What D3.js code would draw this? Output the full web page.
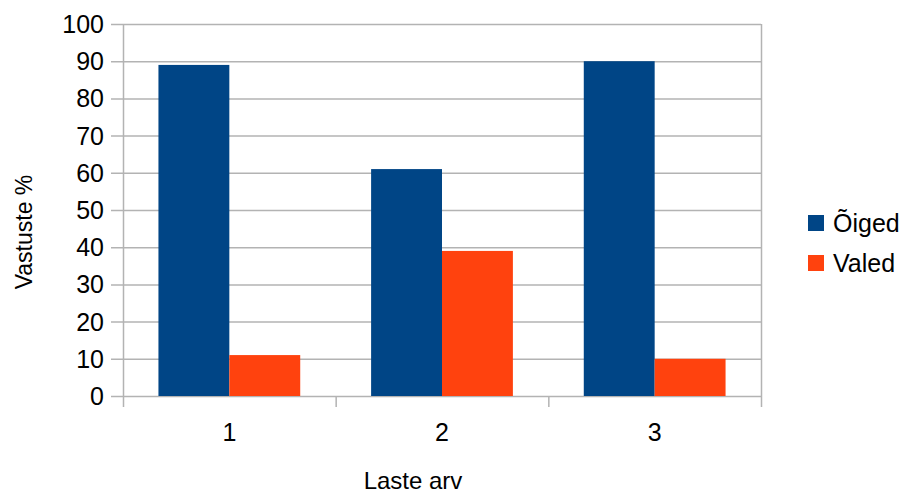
<!DOCTYPE html>
<html>
<head>
<meta charset="utf-8">
<script src="https://cdn.jsdelivr.net/npm/d3@7"></script>
<style>
  body { margin: 0; background: #fff; }
  text { font-family: "Liberation Sans", Arial, sans-serif; fill: #000; }
</style>
</head>
<body>
<div id="container"></div>
<script>
/* DATA */
const categories = ["1", "2", "3"];
const seriesNames = ["Õiged", "Valed"];
const oigedValues = [89, 61, 90];
const valedValues = [11, 39, 10];
const yTicks = [0, 10, 20, 30, 40, 50, 60, 70, 80, 90, 100];

const width = 902,
      height = 493,
      margin = {top: 24, bottom: 97, left: 123, right: 141};

const colors = ["#004586", "#ff420e"];
const gridColor = "#b3b3b3";

const rows = categories.map((c, i) => ({cat: c, values: [oigedValues[i], valedValues[i]]}));

const svg = d3.select("#container")
  .append("svg")
  .attr("width", width)
  .attr("height", height);

/* SCALES */
const xScale = d3.scaleBand()
  .domain(categories)
  .range([margin.left, width - margin.right])
  .padding(0);

const xInner = d3.scaleBand()
  .domain(seriesNames)
  .range([0, xScale.bandwidth()])
  .paddingInner(0)
  .paddingOuter(0.5);

const yScale = d3.scaleLinear()
  .domain([0, 100])
  .range([height - margin.bottom, margin.top]);

// gridlines
svg.append("g")
  .selectAll("line")
  .data(yTicks)
  .join("line")
  .attr("x1", margin.left - 12)
  .attr("x2", width - margin.right)
  .attr("y1", d => yScale(d) + 0.5)
  .attr("y2", d => yScale(d) + 0.5)
  .attr("stroke", gridColor)
  .attr("stroke-width", 1.5);

// right border
svg.append("line")
  .attr("x1", width - margin.right + 0.5)
  .attr("x2", width - margin.right + 0.5)
  .attr("y1", margin.top)
  .attr("y2", height - margin.bottom + 11)
  .attr("stroke", gridColor)
  .attr("stroke-width", 1.5);

// category separators (x axis ticks)
const sepX = categories.map(c => xScale(c));
svg.append("g")
  .selectAll("line")
  .data(sepX)
  .join("line")
  .attr("x1", d => d + 0.5)
  .attr("x2", d => d + 0.5)
  .attr("y1", (d, i) => i === 0 ? margin.top : height - margin.bottom)
  .attr("y2", height - margin.bottom + 11)
  .attr("stroke", gridColor)
  .attr("stroke-width", 1.5);

// bars
svg.append("g")
  .selectAll("g")
  .data(rows)
  .join("g")
  .attr("transform", d => `translate(${xScale(d.cat)},0)`)
  .selectAll("rect")
  .data(d => d.values.map((v, j) => ({name: seriesNames[j], value: v, j})))
  .join("rect")
  .attr("x", d => xInner(d.name))
  .attr("width", xInner.bandwidth())
  .attr("y", d => yScale(d.value))
  .attr("height", d => yScale(0) - yScale(d.value))
  .attr("fill", d => colors[d.j]);

// y tick labels
svg.append("g")
  .selectAll("text")
  .data(yTicks)
  .join("text")
  .attr("x", margin.left - 19)
  .attr("y", d => yScale(d) + 9)
  .attr("text-anchor", "end")
  .style("font-size", "25px")
  .text(d => d);

// x tick labels
svg.append("g")
  .selectAll("text")
  .data(categories)
  .join("text")
  .attr("x", d => xScale(d) + xScale.bandwidth() / 2)
  .attr("y", 441)
  .attr("text-anchor", "middle")
  .style("font-size", "25px")
  .text(d => d);

// axis titles
svg.append("text")
  .attr("x", (margin.left + width - margin.right) / 2 - 29)
  .attr("y", 489)
  .attr("text-anchor", "middle")
  .style("font-size", "24px")
  .text("Laste arv");

svg.append("text")
  .attr("transform", "rotate(-90)")
  .attr("x", -232)
  .attr("y", 32)
  .attr("text-anchor", "middle")
  .style("font-size", "23px")
  .text("Vastuste %");

// legend
const legend = svg.append("g")
  .selectAll("g")
  .data(seriesNames)
  .join("g")
  .attr("transform", (d, i) => `translate(808, ${215 + i * 40})`);

legend.append("rect")
  .attr("width", 16)
  .attr("height", 16)
  .attr("fill", (d, i) => colors[i]);

legend.append("text")
  .attr("x", 25)
  .attr("y", 17)
  .style("font-size", "25px")
  .text(d => d);
</script>
</body>
</html>
